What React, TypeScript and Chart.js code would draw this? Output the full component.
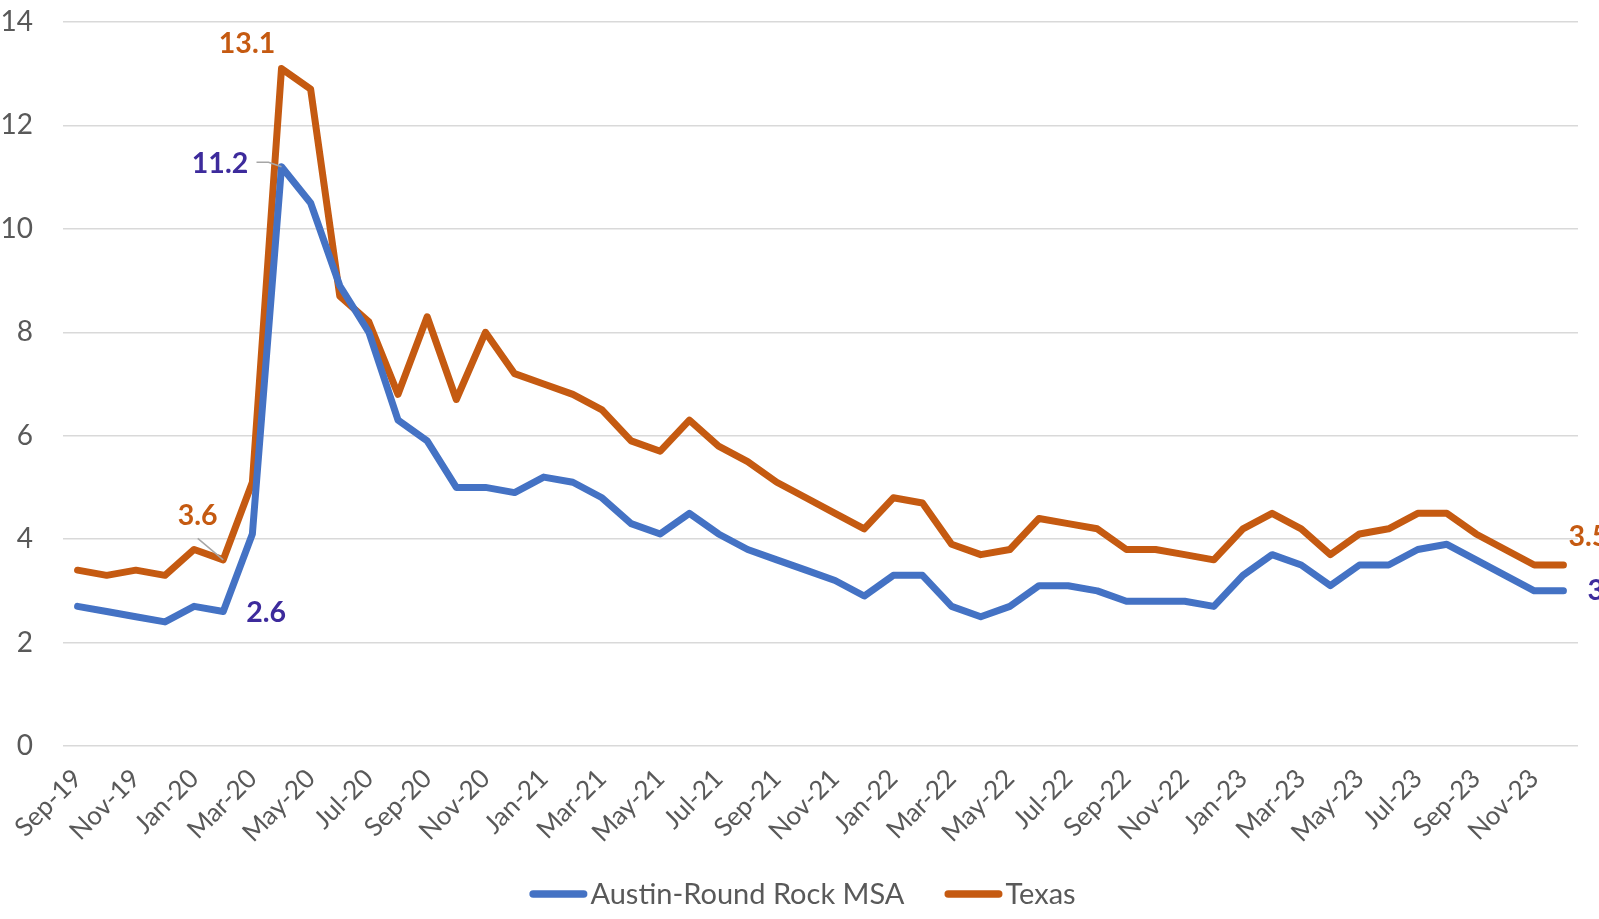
import React, { useEffect, useRef } from 'react';
import { Chart, registerables } from 'chart.js';

Chart.register(...registerables);

const categories = [
  'Sep-19', 'Oct-19', 'Nov-19', 'Dec-19',
  'Jan-20', 'Feb-20', 'Mar-20', 'Apr-20', 'May-20', 'Jun-20', 'Jul-20', 'Aug-20', 'Sep-20', 'Oct-20', 'Nov-20', 'Dec-20',
  'Jan-21', 'Feb-21', 'Mar-21', 'Apr-21', 'May-21', 'Jun-21', 'Jul-21', 'Aug-21', 'Sep-21', 'Oct-21', 'Nov-21', 'Dec-21',
  'Jan-22', 'Feb-22', 'Mar-22', 'Apr-22', 'May-22', 'Jun-22', 'Jul-22', 'Aug-22', 'Sep-22', 'Oct-22', 'Nov-22', 'Dec-22',
  'Jan-23', 'Feb-23', 'Mar-23', 'Apr-23', 'May-23', 'Jun-23', 'Jul-23', 'Aug-23', 'Sep-23', 'Oct-23', 'Nov-23', 'Dec-23',
];

const austin = [
  2.7, 2.6, 2.5, 2.4,
  2.7, 2.6, 4.1, 11.2, 10.5, 8.9, 8.0, 6.3, 5.9, 5.0, 5.0, 4.9,
  5.2, 5.1, 4.8, 4.3, 4.1, 4.5, 4.1, 3.8, 3.6, 3.4, 3.2, 2.9,
  3.3, 3.3, 2.7, 2.5, 2.7, 3.1, 3.1, 3.0, 2.8, 2.8, 2.8, 2.7,
  3.3, 3.7, 3.5, 3.1, 3.5, 3.5, 3.8, 3.9, 3.6, 3.3, 3.0, 3.0,
];

const texas = [
  3.4, 3.3, 3.4, 3.3,
  3.8, 3.6, 5.1, 13.1, 12.7, 8.7, 8.2, 6.8, 8.3, 6.7, 8.0, 7.2,
  7.0, 6.8, 6.5, 5.9, 5.7, 6.3, 5.8, 5.5, 5.1, 4.8, 4.5, 4.2,
  4.8, 4.7, 3.9, 3.7, 3.8, 4.4, 4.3, 4.2, 3.8, 3.8, 3.7, 3.6,
  4.2, 4.5, 4.2, 3.7, 4.1, 4.2, 4.5, 4.5, 4.1, 3.8, 3.5, 3.5,
];

const seriesNames = ['Austin-Round Rock MSA', 'Texas'];
const yTickValues = [0, 2, 4, 6, 8, 10, 12, 14];

// which points carry a value label (series index, point index)
const labelledPoints = [
  { series: 1, index: 7 },
  { series: 0, index: 7 },
  { series: 1, index: 5 },
  { series: 0, index: 5 },
  { series: 1, index: 51 },
  { series: 0, index: 51 },
];

// placement styles for those labels (offsets from the point, px)
const labelPlacement = [
  { dx: -34.5, dy: -16, align: 'center', leader: null },
  { dx: -61.5, dy: 6.5, align: 'center', leader: [[-25, -4.5], [-13, -4.5]] },
  { dx: -25.7, dy: -34.7, align: 'center', leader: [[-25.5, -21.4]] },
  { dx: 23, dy: 10.5, align: 'left', leader: null },
  { dx: 5, dy: -19, align: 'left', leader: null },
  { dx: 24, dy: 9, align: 'left', leader: null },
];

const lineColors = ['#4472C4', '#C55A11'];
const labelColors = ['#3D2B9C', '#C55A11'];
const FONT = 'Lato, "Open Sans", sans-serif';

const valueLabelPlugin = {
  id: 'valueLabels',
  afterDatasetsDraw(chart: any) {
    const ctx = chart.ctx;
    ctx.save();
    ctx.font = `bold 28.5px ${FONT}`;
    ctx.textBaseline = 'alphabetic';
    labelledPoints.forEach((lp, k) => {
      const pl = labelPlacement[k];
      const el = chart.getDatasetMeta(lp.series).data[lp.index];
      const val = chart.data.datasets[lp.series].data[lp.index];
      const px = el.x;
      const py = el.y;
      if (pl.leader) {
        ctx.strokeStyle = '#A6A6A6';
        ctx.lineWidth = 1.5;
        ctx.beginPath();
        ctx.moveTo(px + pl.leader[0][0], py + pl.leader[0][1]);
        for (let i = 1; i < pl.leader.length; i++) ctx.lineTo(px + pl.leader[i][0], py + pl.leader[i][1]);
        ctx.lineTo(px, py);
        ctx.stroke();
      }
      ctx.fillStyle = labelColors[lp.series];
      ctx.textAlign = pl.align;
      ctx.fillText(String(val), px + pl.dx, py + pl.dy);
    });
    ctx.restore();
  },
};

const legendPlugin = {
  id: 'customLegend',
  afterDraw(chart: any) {
    const ctx = chart.ctx;
    ctx.save();
    ctx.font = `29px ${FONT}`;
    const lineLen = 58;
    const gapText = 3;
    const gapItem = 40;
    const widths = seriesNames.map((n) => ctx.measureText(n).width);
    const total = widths.reduce((a, w) => a + lineLen + gapText + w, 0) + gapItem * (seriesNames.length - 1);
    let x = chart.width / 2 + 3 - total / 2;
    const yLine = 894;
    const yBase = 904;
    seriesNames.forEach((n, i) => {
      ctx.strokeStyle = lineColors[i];
      ctx.lineWidth = 7.5;
      ctx.lineCap = 'round';
      ctx.beginPath();
      ctx.moveTo(x + 3.75, yLine);
      ctx.lineTo(x + lineLen - 3.75, yLine);
      ctx.stroke();
      x += lineLen + gapText;
      ctx.fillStyle = '#595959';
      ctx.textAlign = 'left';
      ctx.textBaseline = 'alphabetic';
      ctx.fillText(n, x, yBase);
      x += widths[i] + gapItem;
    });
    ctx.restore();
  },
};

export default function App() {
  const ref = useRef<HTMLCanvasElement | null>(null);
  useEffect(() => {
    if (!ref.current) return;
    const chart = new Chart(ref.current, {
      type: 'line',
      data: {
        labels: categories,
        datasets: [
          {
            label: seriesNames[0],
            data: austin,
            borderColor: lineColors[0],
            backgroundColor: lineColors[0],
            borderWidth: 7,
            pointRadius: 0,
            tension: 0,
            borderJoinStyle: 'round',
            borderCapStyle: 'round',
          },
          {
            label: seriesNames[1],
            data: texas,
            borderColor: lineColors[1],
            backgroundColor: lineColors[1],
            borderWidth: 7,
            pointRadius: 0,
            tension: 0,
            borderJoinStyle: 'round',
            borderCapStyle: 'round',
          },
        ],
      },
      options: {
        responsive: false,
        animation: false,
        devicePixelRatio: 1,
        layout: { padding: { top: 22, right: 21, bottom: 73, left: 0 } },
        plugins: { legend: { display: false }, tooltip: { enabled: false } },
        scales: {
          x: {
            type: 'category',
            offset: true,
            grid: { display: false, drawTicks: false },
            border: { display: false },
            ticks: {
              autoSkip: false,
              maxRotation: 45,
              minRotation: 45,
              padding: 17,
              color: '#595959',
              font: { family: FONT, size: 26 },
              callback: (_v: any, i: number) => (i % 2 === 0 ? categories[i] : ''),
            },
            afterFit: (s: any) => { s.height = 100; s.paddingLeft = 0; s.paddingRight = 0; },
          },
          y: {
            min: yTickValues[0],
            max: yTickValues[yTickValues.length - 1],
            afterBuildTicks: (s: any) => { s.ticks = yTickValues.map((v) => ({ value: v })); },
            grid: { color: '#D9D9D9', lineWidth: 1.5, drawTicks: false },
            border: { display: false },
            ticks: {
              padding: 30,
              color: '#595959',
              font: { family: FONT, size: 28 },
            },
            afterFit: (s: any) => { s.width = 63; s.paddingTop = 0; s.paddingBottom = 0; },
          },
        },
      },
      plugins: [valueLabelPlugin, legendPlugin],
    } as any);
    return () => chart.destroy();
  }, []);
  return (
    <div style={{ position: 'fixed', left: 0, top: 0, width: 1599, height: 919, background: '#fff' }}>
      <canvas ref={ref} width={1599} height={919} style={{ width: 1599, height: 919, display: 'block' }} />
    </div>
  );
}
